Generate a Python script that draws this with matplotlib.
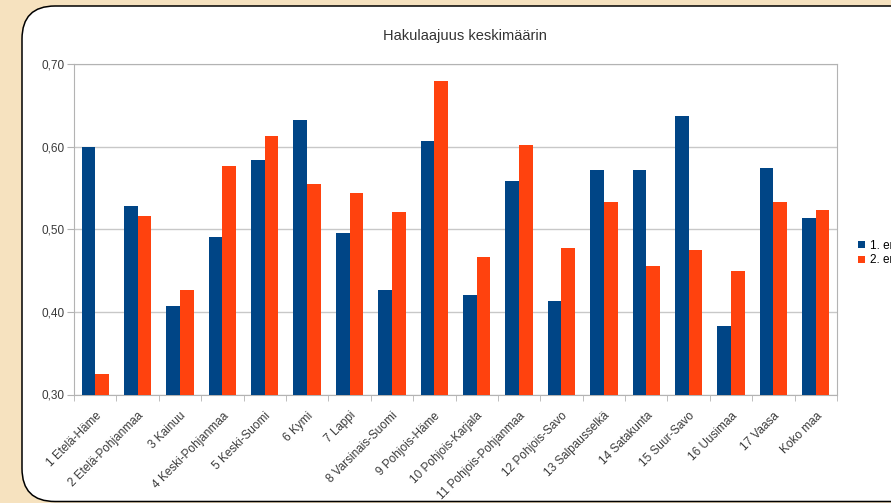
import numpy as np
import matplotlib
matplotlib.use("Agg")
import matplotlib.pyplot as plt
from matplotlib.patches import FancyBboxPatch
from matplotlib.transforms import ScaledTranslation

plt.rcParams['font.family'] = ['Liberation Sans', 'DejaVu Sans']

alueet = ["1 Etelä-Häme", "2 Etelä-Pohjanmaa", "3 Kainuu", "4 Keski-Pohjanmaa",
          "5 Keski-Suomi", "6 Kymi", "7 Lappi", "8 Varsinais-Suomi",
          "9 Pohjois-Häme", "10 Pohjois-Karjala", "11 Pohjois-Pohjanmaa",
          "12 Pohjois-Savo", "13 Salpausselkä", "14 Satakunta", "15 Suur-Savo",
          "16 Uusimaa", "17 Vaasa", "Koko maa"]
era1 = [0.600, 0.528, 0.407, 0.491, 0.584, 0.632, 0.495, 0.426, 0.607,
        0.421, 0.558, 0.413, 0.572, 0.572, 0.637, 0.383, 0.574, 0.514]
era2 = [0.325, 0.516, 0.427, 0.576, 0.613, 0.555, 0.544, 0.521, 0.680,
        0.466, 0.602, 0.477, 0.533, 0.456, 0.475, 0.449, 0.533, 0.523]
yticks = [0.30, 0.40, 0.50, 0.60, 0.70]

W, H = 891, 503
fig = plt.figure(figsize=(W / 100, H / 100), dpi=100)
fig.patch.set_facecolor('#f6e2bf')

# white rounded card behind the chart
card = FancyBboxPatch((0.22, 0.015), 9.2, 4.955,
                      boxstyle="round,pad=0,rounding_size=0.33",
                      transform=fig.dpi_scale_trans, facecolor='white',
                      edgecolor='black', linewidth=1.1, zorder=-1)
fig.patches.append(card)

ax = fig.add_axes([74 / W, (H - 394.5) / H, (837 - 74) / W, (394.5 - 64) / H])
ax.set_facecolor('none')

x = np.arange(len(alueet))
w = 0.322
ax.bar(x - w / 2, era1, w, color='#004586', label='1. erä', zorder=3)
ax.bar(x + w / 2, era2, w, color='#ff420e', label='2. erä', zorder=3)

ax.set_ylim(0.30, 0.70)
ax.set_xlim(-0.5, len(alueet) - 0.5)
ax.set_yticks(yticks)
ax.set_yticklabels([f"{v:.2f}".replace('.', ',') for v in yticks])
ax.yaxis.grid(True, color='#c8c8c8', linewidth=1, zorder=0)
ax.set_axisbelow(True)

ax.set_xticks(x)
ax.set_xticklabels(alueet, rotation=45, ha='right', va='top',
                   rotation_mode='anchor')
shift = ScaledTranslation(-4 / 100, 0, fig.dpi_scale_trans)
for lab in ax.get_xticklabels():
    lab.set_transform(lab.get_transform() + shift)
ax.set_xticks(np.arange(-0.5, len(alueet), 1), minor=True)
ax.tick_params(axis='x', which='major', length=0, pad=11,
               labelsize=8.5, labelcolor='#3a3a3a')
ax.tick_params(axis='x', which='minor', length=4, color='#b3b3b3')
ax.tick_params(axis='y', length=5, color='#b3b3b3', labelsize=8.5,
               labelcolor='#3a3a3a', pad=2)
for s in ax.spines.values():
    s.set_color('#b3b3b3')

fig.text(465 / W, 1 - 36 / H, "Hakulaajuus keskimäärin", ha='center',
         va='center', fontsize=10.5, color='#333333')

fig.legend(loc='center left', bbox_to_anchor=(852 / W, 1 - 253 / H),
           frameon=False, fontsize=8.5, handlelength=0.6, handleheight=0.6,
           handletextpad=0.4, labelspacing=0.25, borderpad=0)

fig.savefig("out.png", dpi=100, facecolor=fig.get_facecolor())
